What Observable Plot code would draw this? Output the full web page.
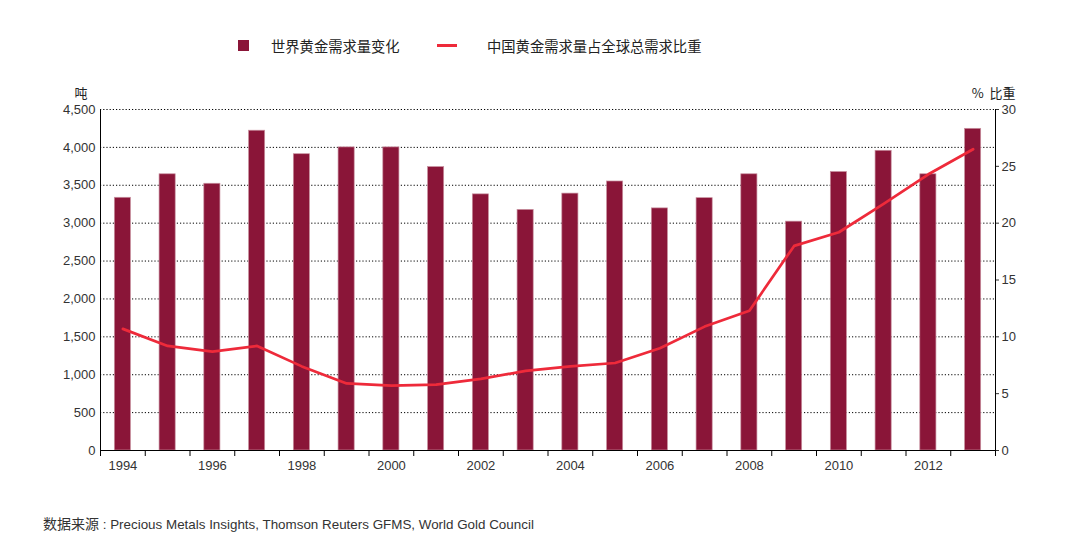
<!DOCTYPE html>
<html><head><meta charset="utf-8">
<script src="https://cdn.jsdelivr.net/npm/d3@7"></script>
<script src="https://cdn.jsdelivr.net/npm/@observablehq/plot@0.6"></script>
<style>
body{margin:0;background:#fff;font-family:"Liberation Sans",Arial,sans-serif;}
#wrap{position:relative;width:1074px;height:555px;overflow:hidden;}
.cjk{font-family:"Noto Sans CJK SC","Liberation Sans",sans-serif;}
.lg{position:absolute;color:#222;font-size:14.3px;line-height:1;}
</style></head><body>
<div id="wrap">
  <div style="position:absolute;left:238px;top:40px;width:11px;height:11px;background:#8a1538;"></div>
  <div class="lg cjk" style="left:271px;top:39px;">世界黄金需求量变化</div>
  <div style="position:absolute;left:437px;top:44px;width:20px;height:2.8px;background:#ee2a3a;"></div>
  <div class="lg cjk" style="left:487px;top:39px;">中国黄金需求量占全球总需求比重</div>
  <div id="chart" style="position:absolute;left:0;top:70px;"></div>
  <div id="caption" style="position:absolute;left:43px;top:513px;font-size:13.4px;color:#333;white-space:nowrap;"><span class="cjk" style="font-size:14px">数据来源</span> : Precious Metals Insights, Thomson Reuters GFMS, World Gold Council</div>
</div>
<script>
const years = [1994,1995,1996,1997,1998,1999,2000,2001,2002,2003,2004,2005,2006,2007,2008,2009,2010,2011,2012,2013];
const worldDemand = [3335,3645,3520,4220,3910,4000,4000,3740,3380,3175,3390,3550,3195,3330,3645,3020,3675,3955,3645,4245];
const chinaShare = [10.7,9.2,8.7,9.2,7.4,5.9,5.7,5.8,6.3,7.0,7.4,7.7,9.0,10.9,12.3,18.0,19.2,21.7,24.3,26.5];
const leftTicks = [0,500,1000,1500,2000,2500,3000,3500,4000,4500];
const rightTicks = [0,5,10,15,20,25,30];
const xLabels = [1994,1996,1998,2000,2002,2004,2006,2008,2010,2012];

const SCALE = 4500 / 30;
const data = years.map((y, i) => ({year: y, demand: worldDemand[i], share: chinaShare[i]}));
const boundaries = years.concat([years[years.length - 1] + 1]).map(y => y - 0.5);
const half = 0.18;

const chart = Plot.plot({
  width: 1074, height: 430,
  marginLeft: 100, marginRight: 79, marginTop: 39, marginBottom: 50,
  x: {domain: [boundaries[0], boundaries[boundaries.length - 1]]},
  y: {domain: [0, 4500]},
  style: {fontFamily: "'Liberation Sans', Arial, sans-serif", fontSize: "13px", color: "#333", background: "#fff"},
  marks: [
    Plot.gridY(leftTicks, {stroke: "#000", strokeOpacity: 1, strokeDasharray: "1.2,2"}),
    Plot.rectY(data, {x1: d => d.year - half, x2: d => d.year + half, y1: 0, y2: "demand",
      fill: "#8a1538", stroke: "#c8909f", strokeWidth: 0.7}),
    Plot.line(data, {x: "year", y: d => d.share * SCALE, stroke: "#ee2a3a", strokeWidth: 2.7}),
    Plot.ruleX([boundaries[0], boundaries[boundaries.length - 1]], {stroke: "#000", strokeWidth: 1}),
    Plot.ruleY([0], {stroke: "#000", strokeWidth: 1.2}),
    Plot.axisY(leftTicks, {anchor: "left", tickSize: 0, tickPadding: 5, tickFormat: d3.format(","), label: null}),
    Plot.axisY(rightTicks.map(v => v * SCALE), {anchor: "right", tickSize: 3, tickPadding: 3,
      tickFormat: d => String(Math.round(d / SCALE)), label: null}),
    Plot.axisX(boundaries, {tickSize: 6, tickFormat: () => "", label: null, stroke: "#000"}),
    Plot.axisX(xLabels, {tickSize: 0, tickPadding: 10, tickFormat: d => String(d), label: null}),
    Plot.text(["吨"], {frameAnchor: "top-left", dx: -26, dy: -21, fontSize: 13, fill: "#222",
      fontFamily: "'Noto Sans CJK SC', sans-serif"}),
    Plot.text(["%  比重"], {frameAnchor: "top-right", dx: 20, dy: -21, textAnchor: "end", fontSize: 13, fill: "#222",
      fontFamily: "'Noto Sans CJK SC', sans-serif"})
  ]
});
document.getElementById("chart").appendChild(chart);
</script>
</body></html>
